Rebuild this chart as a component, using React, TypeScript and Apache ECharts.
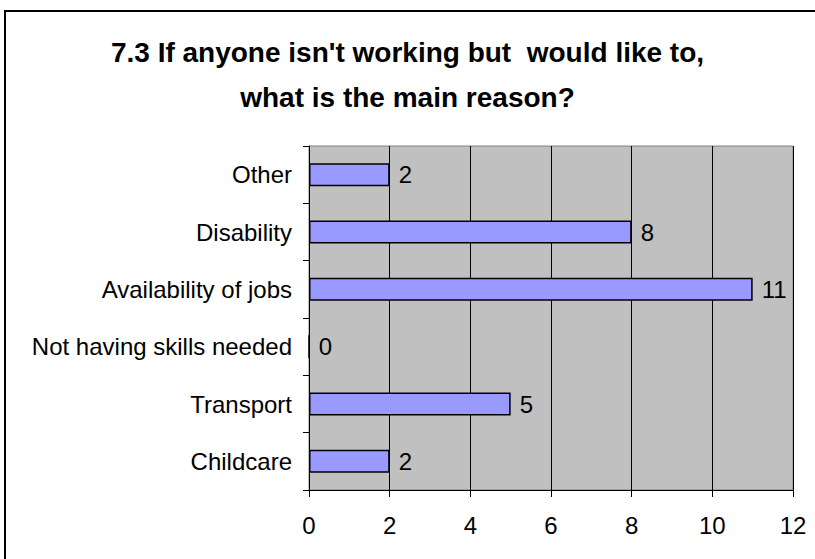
import React, { useEffect, useRef } from "react";
import * as echarts from "echarts";

const categories = [
  "Childcare",
  "Transport",
  "Not having skills needed",
  "Availability of jobs",
  "Disability",
  "Other",
];
const counts = [2, 5, 0, 11, 8, 2];
const xTicks = { min: 0, max: 12, interval: 2 };
const titleLines = [
  "7.3 If anyone isn't working but  would like to,",
  "what is the main reason?",
];

export default function App() {
  const ref = useRef<HTMLDivElement>(null);
  useEffect(() => {
    document.body.style.margin = "0";
    const chart = echarts.init(ref.current!, null, { renderer: "svg" });
    const font = "'Liberation Sans', Arial, sans-serif";
    chart.setOption({
      animation: false,
      backgroundColor: "#ffffff",
      textStyle: { fontFamily: font },
      title: {
        text: titleLines.join("\n"),
        left: "center",
        top: 25,
        textStyle: {
          fontFamily: font,
          fontWeight: "bold",
          fontSize: 28,
          lineHeight: 45,
          color: "#000",
        },
      },
      graphic: [
        {
          type: "rect",
          shape: { x: 5, y: 11, width: 830, height: 580 },
          style: { fill: "none", stroke: "#000", lineWidth: 2 },
          silent: true,
        },
      ],
      grid: {
        left: 309,
        right: 22,
        top: 146,
        bottom: 69,
        show: true,
        backgroundColor: "#C0C0C0",
        borderColor: "#808080",
        borderWidth: 1,
      },
      xAxis: {
        type: "value",
        min: xTicks.min,
        max: xTicks.max,
        interval: xTicks.interval,
        axisLine: { show: true, lineStyle: { color: "#000", width: 1 } },
        axisTick: { show: true, length: 7, lineStyle: { color: "#000" } },
        splitLine: { show: true, lineStyle: { color: "#000", width: 1 } },
        axisLabel: { fontSize: 24, color: "#000", margin: 23, fontFamily: font },
      },
      yAxis: {
        type: "category",
        data: categories,
        axisLine: { show: true, lineStyle: { color: "#000", width: 1 } },
        axisTick: { show: true, length: 6, lineStyle: { color: "#000" } },
        splitLine: { show: false },
        axisLabel: { fontSize: 24, color: "#000", margin: 17, fontFamily: font },
      },
      series: [
        {
          type: "bar",
          data: counts,
          barCategoryGap: "60%",
          itemStyle: { color: "#9999FF", borderColor: "#000", borderWidth: 1.5 },
          label: {
            show: true,
            position: "right",
            distance: 9,
            fontSize: 24,
            color: "#000",
            fontFamily: font,
          },
        },
      ],
    });
    return () => chart.dispose();
  }, []);
  return <div ref={ref} style={{ width: 815, height: 559 }} />;
}
